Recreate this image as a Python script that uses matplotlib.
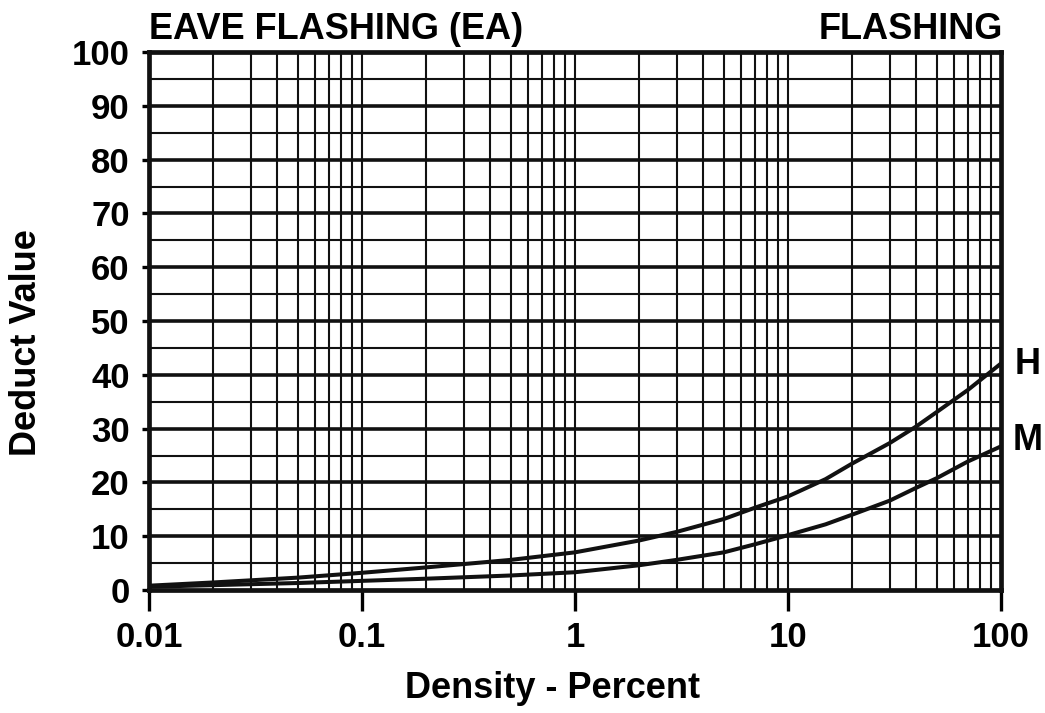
#Important imports
import numpy as np
import matplotlib
matplotlib.use("Agg")
import matplotlib.pyplot as plt
from matplotlib.ticker import FixedLocator, LogLocator, NullFormatter

plt.rcParams["font.family"] = ["Liberation Sans", "DejaVu Sans"]
plt.rcParams["font.weight"] = "bold"

#Curve values
density = [0.01, 0.02, 0.05, 0.1, 0.2, 0.5, 1, 2, 3, 5, 7, 10, 15, 20, 30, 40, 50, 70, 100]
deduct_h = [0.8, 1.4, 2.3, 3.2, 4.2, 5.6, 7.0, 9.2, 10.8, 13.2, 15.3, 17.4, 20.6, 23.5, 27.3, 30.4, 33.1, 37.2, 42.1]
deduct_m = [0.6, 0.9, 1.3, 1.7, 2.1, 2.7, 3.3, 4.6, 5.6, 7.0, 8.5, 10.2, 12.2, 14.0, 16.6, 19.0, 20.8, 23.9, 26.7]

x_ticks = [0.01, 0.1, 1, 10, 100]
x_labels = ["0.01", "0.1", "1", "10", "100"]
y_ticks = [0, 10, 20, 30, 40, 50, 60, 70, 80, 90, 100]

fig = plt.figure(figsize=(10.45, 7.13), dpi=100)
ax = fig.add_axes([149 / 1045, 1 - 590 / 713, (1001 - 149) / 1045, (590 - 52) / 713])

ax.set_xscale("log")
ax.set_xlim(0.01, 100)
ax.set_ylim(0, 100)

#Grid: vertical log lines, thick major / thin minor horizontals
for d in [0.01, 0.1, 1, 10]:
    for k in range(1, 10):
        ax.axvline(d * k, color="#111111", lw=1.5, zorder=1)
for yv in range(5, 100, 10):
    ax.axhline(yv, color="#111111", lw=1.5, zorder=1)
for yv in range(10, 100, 10):
    ax.axhline(yv, color="#111111", lw=2.6, zorder=1)

ax.plot(density, deduct_h, color="#111111", lw=2.9, zorder=3)
ax.plot(density, deduct_m, color="#111111", lw=2.9, zorder=3)

ax.annotate("H", xy=(100, 42.0), xytext=(19, 0), textcoords="offset points",
            fontsize=26, fontweight="bold", va="center", ha="center", annotation_clip=False)
ax.annotate("M", xy=(100, 27.8), xytext=(19, 0), textcoords="offset points",
            fontsize=26, fontweight="bold", va="center", ha="center", annotation_clip=False)

ax.xaxis.set_major_locator(FixedLocator(x_ticks))
ax.xaxis.set_minor_locator(LogLocator(base=10, subs=np.arange(2, 10)))
ax.xaxis.set_minor_formatter(NullFormatter())
ax.set_xticks(x_ticks)
ax.set_xticklabels(x_labels)
ax.set_yticks(y_ticks)

ax.tick_params(axis="x", which="major", length=15, width=2.4, pad=7, labelsize=25, direction="out")
ax.tick_params(axis="x", which="minor", length=0)
ax.tick_params(axis="y", which="major", length=5, width=2.4, pad=9, labelsize=25, direction="out")

for sp in ax.spines.values():
    sp.set_linewidth(3.4)
    sp.set_color("#111111")
    sp.set_zorder(4)

fig.text(149 / 1045, 1 - 39 / 713, "EAVE FLASHING (EA)", fontsize=26, fontweight="bold",
         ha="left", va="baseline")
fig.text(1003 / 1045, 1 - 39 / 713, "FLASHING", fontsize=26, fontweight="bold",
         ha="right", va="baseline")
fig.text(553 / 1045, 1 - 698 / 713, "Density - Percent", fontsize=26, fontweight="bold",
         ha="center", va="baseline")
fig.text(27 / 1045, 1 - 343 / 713, "Deduct Value", fontsize=26, fontweight="bold",
         ha="center", va="center", rotation=90)

fig.savefig("out.png", dpi=100, facecolor="white")
plt.close(fig)
